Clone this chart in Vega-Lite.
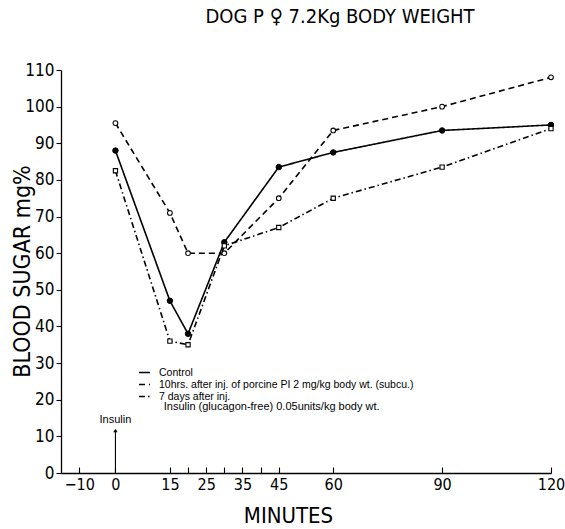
{
  "$schema": "https://vega.github.io/schema/vega-lite/v6.json",
  "width": 490,
  "height": 403,
  "autosize": "none",
  "padding": {"left": 61, "top": 70, "right": 14, "bottom": 56},
  "background": "white",
  "config": {
    "view": {"stroke": null},
    "axis": {
      "grid": false,
      "domainColor": "black",
      "tickColor": "black",
      "labelColor": "black",
      "titleColor": "black",
      "labelFont": "DejaVu Sans Condensed, Liberation Sans, sans-serif",
      "titleFont": "DejaVu Sans Condensed, Liberation Sans, sans-serif",
      "titleFontWeight": "normal",
      "domainWidth": 1.3,
      "tickWidth": 1.1
    }
  },
  "title": {
    "text": "DOG P \u2640 7.2Kg BODY WEIGHT",
    "font": "DejaVu Sans Condensed, Liberation Sans, sans-serif",
    "fontSize": 20,
    "fontWeight": "normal",
    "color": "black",
    "anchor": "middle",
    "frame": "group",
    "dx": 34,
    "offset": 34
  },
  "datasets": {
    "readings": [
      {"series": "Control", "t": 0, "v": 88},
      {"series": "Control", "t": 15, "v": 47},
      {"series": "Control", "t": 20, "v": 38},
      {"series": "Control", "t": 30, "v": 63},
      {"series": "Control", "t": 45, "v": 83.5},
      {"series": "Control", "t": 60, "v": 87.5},
      {"series": "Control", "t": 90, "v": 93.5},
      {"series": "Control", "t": 120, "v": 95},
      {"series": "10hrs. after inj. of porcine PI 2 mg/kg body wt. (subcu.)", "t": 0, "v": 95.5},
      {"series": "10hrs. after inj. of porcine PI 2 mg/kg body wt. (subcu.)", "t": 15, "v": 71},
      {"series": "10hrs. after inj. of porcine PI 2 mg/kg body wt. (subcu.)", "t": 20, "v": 60},
      {"series": "10hrs. after inj. of porcine PI 2 mg/kg body wt. (subcu.)", "t": 30, "v": 60},
      {"series": "10hrs. after inj. of porcine PI 2 mg/kg body wt. (subcu.)", "t": 45, "v": 75},
      {"series": "10hrs. after inj. of porcine PI 2 mg/kg body wt. (subcu.)", "t": 60, "v": 93.5},
      {"series": "10hrs. after inj. of porcine PI 2 mg/kg body wt. (subcu.)", "t": 90, "v": 100},
      {"series": "10hrs. after inj. of porcine PI 2 mg/kg body wt. (subcu.)", "t": 120, "v": 108},
      {"series": "7 days after inj.", "t": 0, "v": 82.5},
      {"series": "7 days after inj.", "t": 15, "v": 36},
      {"series": "7 days after inj.", "t": 20, "v": 35},
      {"series": "7 days after inj.", "t": 30, "v": 62},
      {"series": "7 days after inj.", "t": 45, "v": 67},
      {"series": "7 days after inj.", "t": 60, "v": 75},
      {"series": "7 days after inj.", "t": 90, "v": 83.5},
      {"series": "7 days after inj.", "t": 120, "v": 94}
    ]
  },
  "encoding": {
    "x": {
      "field": "t",
      "type": "quantitative",
      "scale": {"domain": [-15, 120], "nice": false, "zero": false},
      "axis": {
        "values": [-10, 0, 15, 20, 25, 30, 35, 40, 45, 60, 90, 120],
        "labelExpr": "datum.value == 20 || datum.value == 30 || datum.value == 40 ? '' : datum.label",
        "tickSize": -6,
        "labelPadding": 9,
        "labelFontSize": 16,
        "labelFlush": false,
        "labelOverlap": false,
        "title": "MINUTES",
        "titleFontSize": 22,
        "titleX": 227,
        "titleY": 42,
        "titleAlign": "center",
        "titleBaseline": "middle"
      }
    },
    "y": {
      "field": "v",
      "type": "quantitative",
      "scale": {"domain": [0, 110], "nice": false},
      "axis": {
        "values": [0, 10, 20, 30, 40, 50, 60, 70, 80, 90, 100, 110],
        "tickSize": 5,
        "labelPadding": 2,
        "labelFontSize": 17,
        "labelOverlap": false,
        "labelFlush": false,
        "title": "BLOOD SUGAR mg%",
        "titleFontSize": 23,
        "titleAngle": -90,
        "titleX": -39,
        "titleY": 201,
        "titleAlign": "center",
        "titleBaseline": "middle"
      }
    }
  },
  "layer": [
    {
      "data": {"name": "readings"},
      "mark": {"type": "line", "color": "black", "strokeWidth": 1.6},
      "encoding": {
        "strokeDash": {
          "field": "series",
          "type": "nominal",
          "scale": {
            "domain": ["Control", "10hrs. after inj. of porcine PI 2 mg/kg body wt. (subcu.)", "7 days after inj."],
            "range": [[1, 0], [6, 4], [6, 3, 1.5, 3]]
          },
          "legend": {
            "orient": "none",
            "legendX": 77,
            "legendY": 296,
            "title": null,
            "padding": 0,
            "offset": 0,
            "symbolType": "stroke",
            "symbolSize": 121,
            "symbolStrokeWidth": 1.3,
            "symbolStrokeColor": "black",
            "symbolOffset": 0,
            "labelOffset": 8,
            "labelFont": "Liberation Sans",
            "labelFontSize": 10.5,
            "labelColor": "black",
            "labelLimit": 400,
            "rowPadding": 0
          }
        }
      }
    },
    {
      "data": {"name": "readings"},
      "transform": [{"filter": "datum.series === 'Control'"}],
      "mark": {"type": "point", "shape": "circle", "filled": true, "fill": "black", "stroke": "black", "strokeWidth": 1, "size": 30, "opacity": 1},
      "encoding": {}
    },
    {
      "data": {"name": "readings"},
      "transform": [{"filter": "datum.series === '10hrs. after inj. of porcine PI 2 mg/kg body wt. (subcu.)'"}],
      "mark": {"type": "point", "shape": "circle", "filled": true, "fill": "white", "stroke": "black", "strokeWidth": 1.1, "size": 22, "opacity": 1},
      "encoding": {}
    },
    {
      "data": {"name": "readings"},
      "transform": [{"filter": "datum.series === '7 days after inj.'"}],
      "mark": {"type": "point", "shape": "square", "filled": true, "fill": "white", "stroke": "black", "strokeWidth": 1.1, "size": 18, "opacity": 1},
      "encoding": {}
    },
    {
      "data": {"values": [{"t": 0, "v": 0, "v2": 11.5}]},
      "mark": {"type": "rule", "color": "black", "strokeWidth": 1.1},
      "encoding": {
        "y2": {"field": "v2"}
      }
    },
    {
      "data": {"values": [{"t": 0, "v": 11.6}]},
      "mark": {"type": "point", "shape": "triangle-up", "filled": true, "color": "black", "size": 18, "opacity": 1},
      "encoding": {}
    },
    {
      "data": {"values": [{"t": 0, "v": 14.5, "note": "Insulin"}]},
      "mark": {"type": "text", "font": "Liberation Sans", "fontSize": 11, "color": "black", "align": "center", "baseline": "middle"},
      "encoding": {
        "text": {"field": "note"}
      }
    },
    {
      "data": {"values": [{"t": 13.3, "v": 18, "note": "Insulin (glucagon-free) 0.05units/kg body wt."}]},
      "mark": {"type": "text", "font": "Liberation Sans", "fontSize": 11, "color": "black", "align": "left", "baseline": "middle"},
      "encoding": {
        "text": {"field": "note"}
      }
    }
  ]
}
